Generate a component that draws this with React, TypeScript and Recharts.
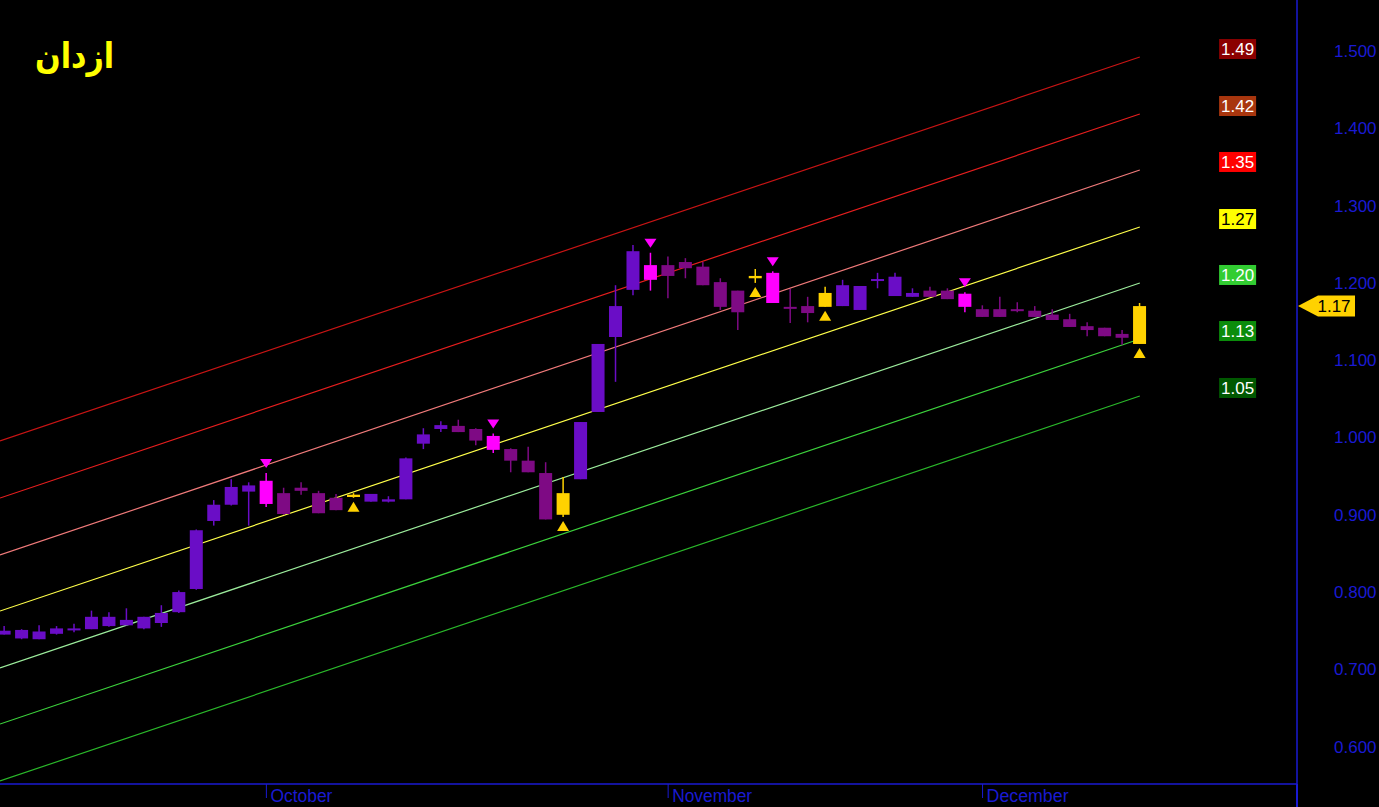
import React from 'react';
import { ComposedChart, Bar, XAxis, YAxis, ReferenceLine, ReferenceDot } from 'recharts';

// daily candles
const opens = [
  0.745, 0.740, 0.739, 0.746, 0.751, 0.752, 0.756, 0.757, 0.753, 0.760,
  0.774, 0.804, 0.892, 0.913, 0.930, 0.944, 0.928, 0.935, 0.928, 0.922,
  0.923, 0.917, 0.917, 0.920, 0.992, 1.011, 1.015, 1.011, 1.002, 0.985,
  0.970, 0.954, 0.900, 0.946, 1.033, 1.130, 1.191, 1.223, 1.223, 1.227,
  1.221, 1.201, 1.190, 1.206, 1.213, 1.169, 1.170, 1.169, 1.170, 1.165,
  1.204, 1.183, 1.182, 1.190, 1.190, 1.186, 1.166, 1.166, 1.166, 1.164,
  1.159, 1.153, 1.144, 1.142, 1.134, 1.121,
];
const highs = [
  0.756, 0.752, 0.757, 0.756, 0.759, 0.776, 0.774, 0.779, 0.768, 0.783,
  0.802, 0.881, 0.919, 0.946, 0.942, 0.954, 0.935, 0.942, 0.931, 0.927,
  0.928, 0.927, 0.924, 0.974, 1.012, 1.021, 1.023, 1.012, 1.005, 0.986,
  0.988, 0.968, 0.949, 1.020, 1.121, 1.197, 1.249, 1.239, 1.234, 1.232,
  1.227, 1.206, 1.190, 1.218, 1.215, 1.192, 1.182, 1.195, 1.204, 1.196,
  1.213, 1.213, 1.193, 1.195, 1.193, 1.188, 1.171, 1.182, 1.175, 1.170,
  1.166, 1.160, 1.149, 1.142, 1.139, 1.174,
];
const lows = [
  0.745, 0.739, 0.739, 0.745, 0.748, 0.752, 0.755, 0.757, 0.752, 0.755,
  0.773, 0.803, 0.886, 0.912, 0.886, 0.910, 0.900, 0.926, 0.902, 0.906,
  0.922, 0.917, 0.916, 0.920, 0.985, 1.007, 1.007, 0.990, 0.980, 0.955,
  0.955, 0.894, 0.897, 0.946, 1.033, 1.072, 1.184, 1.190, 1.180, 1.206,
  1.197, 1.165, 1.139, 1.200, 1.174, 1.148, 1.149, 1.169, 1.170, 1.165,
  1.193, 1.183, 1.182, 1.182, 1.179, 1.162, 1.156, 1.156, 1.162, 1.156,
  1.152, 1.143, 1.131, 1.131, 1.120, 1.121,
];
const closes = [
  0.750, 0.751, 0.749, 0.753, 0.753, 0.768, 0.768, 0.764, 0.768, 0.773,
  0.800, 0.880, 0.913, 0.936, 0.938, 0.914, 0.901, 0.931, 0.902, 0.906,
  0.926, 0.927, 0.920, 0.973, 1.004, 1.016, 1.007, 0.996, 0.984, 0.970,
  0.955, 0.894, 0.928, 1.020, 1.121, 1.170, 1.241, 1.204, 1.209, 1.219,
  1.197, 1.169, 1.162, 1.209, 1.174, 1.168, 1.161, 1.187, 1.197, 1.196,
  1.205, 1.208, 1.187, 1.182, 1.179, 1.169, 1.156, 1.156, 1.164, 1.156,
  1.152, 1.143, 1.139, 1.131, 1.129, 1.170,
];
// b = buy arrow below, s = sell arrow above
const signals = [
  '', '', '', '', '', '', '', '', '', '',
  '', '', '', '', '', 's', '', '', '', '',
  'b', '', '', '', '', '', '', '', 's', '',
  '', '', 'b', '', '', '', '', 's', '', '',
  '', '', '', 'b', 's', '', '', 'b', '', '',
  '', '', '', '', '', 's', '', '', '', '',
  '', '', '', '', '', 'b',
];

// regression channel: value at left edge and at last candle
const channelStart = [0.9955, 0.9217, 0.848, 0.7755, 0.7018, 0.6293, 0.5556];
const channelEnd = [1.4922, 1.4185, 1.3461, 1.2723, 1.1999, 1.1274, 1.0537];
const channelLabels = ['1.49', '1.42', '1.35', '1.27', '1.20', '1.13', '1.05'];
const channelColors = ['#c81414', '#e61e1e', '#f07a7a', '#ffff4a', '#9cec9c', '#3cd23c', '#2ab82a'];
const labelFills = ['#8b0000', '#a8360e', '#ff0000', '#ffff00', '#32cd32', '#0b8c0b', '#005800'];

const monthTicks = [15, 38, 56];
const monthLabels = ['October', 'November', 'December'];
const priceTicks = [0.6, 0.7, 0.8, 0.9, 1.0, 1.1, 1.2, 1.3, 1.4, 1.5];
const lastPrice = 1.17;

const X_MIN = -0.25;
const X_MAX = 74;
const LABEL_X = 70.6;
const BLUE = '#1a1ad2';

const VIOLET = '#6a0dc6';
const PURPLE = '#7e0a84';
const MAGENTA = '#ff00ff';
const GOLD = '#ffd200';

const data = opens.map((o, i) => ({
  i,
  range: [lows[i], highs[i]],
  open: o,
  high: highs[i],
  low: lows[i],
  close: closes[i],
  signal: signals[i],
}));

const Candle = (props: any) => {
  const { x, y, width, height, payload } = props;
  if (!payload) return null;
  const { open, close, high, low, signal } = payload;
  const top = Math.min(y, y + height);
  const h = Math.abs(height);
  const k = high - low > 0 ? h / (high - low) : 0;
  const py = (v: number) => top + (high - v) * k;
  const cx = x + width / 2;
  const bTop = py(Math.max(open, close));
  const bBot = py(Math.min(open, close));
  const bh = Math.max(bBot - bTop, 2);
  let color = close >= open ? VIOLET : PURPLE;
  if (signal === 's') color = MAGENTA;
  if (signal === 'b') color = GOLD;
  const yHigh = py(high);
  const yLow = py(low);
  return (
    <g>
      <line x1={cx} x2={cx} y1={yHigh} y2={yLow} stroke={color} strokeWidth={1.5} />
      <rect x={x} y={bTop} width={width} height={bh} fill={color} />
      {signal === 's' && (
        <polygon
          points={`${cx - 6},${yHigh - 14} ${cx + 6},${yHigh - 14} ${cx},${yHigh - 5}`}
          fill={MAGENTA}
        />
      )}
      {signal === 'b' && (
        <polygon
          points={`${cx},${yLow + 4} ${cx - 6},${yLow + 14} ${cx + 6},${yLow + 14}`}
          fill={GOLD}
        />
      )}
    </g>
  );
};

const MonthTick = (props: any) => {
  const { x, y, payload } = props;
  const idx = monthTicks.indexOf(payload.value);
  return (
    <g>
      <line x1={x} x2={x} y1={y} y2={y + 14} stroke={BLUE} strokeWidth={1} />
      <text x={x + 4} y={y + 18} fill={BLUE} fontSize={18} fontFamily="Liberation Sans, Arial, sans-serif"
        textLength={idx === 0 ? 62 : idx === 1 ? 80 : 82} lengthAdjust="spacingAndGlyphs">
        {monthLabels[idx]}
      </text>
    </g>
  );
};

const PriceTick = (props: any) => {
  const { x, y, payload } = props;
  return (
    <text x={x + 37} y={y + 6} fill={BLUE} fontSize={17} fontFamily="Liberation Sans, Arial, sans-serif">
      {Number(payload.value).toFixed(3)}
    </text>
  );
};

const ChannelTag = (k: number) => (props: any) => {
  const { cx, cy } = props;
  const dark = k === 3;
  return (
    <g>
      <rect x={cx - 18.5} y={cy - 18} width={37} height={20} fill={labelFills[k]} />
      <text x={cx} y={cy - 2} textAnchor="middle" fill={dark ? '#000' : '#fff'} fontSize={17}
        fontFamily="Liberation Sans, Arial, sans-serif">
        {channelLabels[k]}
      </text>
    </g>
  );
};

const LastTag = (props: any) => {
  const { cx, cy } = props;
  return (
    <g>
      <polygon
        points={`${cx + 1},${cy} ${cx + 21},${cy - 10.5} ${cx + 58},${cy - 10.5} ${cx + 58},${cy + 10.5} ${cx + 21},${cy + 10.5}`}
        fill={GOLD}
      />
      <text x={cx + 37} y={cy + 6} textAnchor="middle" fill="#000" fontSize={17}
        fontFamily="Liberation Sans, Arial, sans-serif">
        {lastPrice.toFixed(2)}
      </text>
    </g>
  );
};

export default function App() {
  const lastIdx = opens.length - 1;
  return (
    <div style={{ position: 'absolute', left: 0, top: 0, width: 1379, height: 807, background: '#000', overflow: 'hidden' }}>
      <ComposedChart width={1379} height={807} data={data} margin={{ top: 0, right: 0, bottom: 0, left: 0 }}>
        <XAxis
          dataKey="i"
          type="number"
          domain={[X_MIN, X_MAX]}
          allowDataOverflow
          ticks={monthTicks}
          height={23}
          tickSize={0}
          tickMargin={0}
          tickLine={false}
          axisLine={{ stroke: BLUE, strokeWidth: 1.5 }}
          tick={<MonthTick />}
        />
        <YAxis
          orientation="right"
          type="number"
          domain={[0.5517, 1.566]}
          allowDataOverflow
          ticks={priceTicks}
          width={82}
          tickSize={0}
          tickMargin={0}
          tickLine={false}
          axisLine={{ stroke: BLUE, strokeWidth: 1.5 }}
          tick={<PriceTick />}
        />
        {channelStart.map((s, k) => (
          <ReferenceLine
            key={'ch' + k}
            segment={[{ x: X_MIN, y: s }, { x: lastIdx, y: channelEnd[k] }]}
            stroke={channelColors[k]}
            strokeWidth={1.2}
            ifOverflow="visible"
            zIndex={50}
          />
        ))}
        <Bar dataKey="range" barSize={13} isAnimationActive={false} shape={<Candle />} />
        {channelEnd.map((v, k) => (
          <ReferenceDot key={'tag' + k} x={LABEL_X} y={v} r={1} ifOverflow="visible" shape={ChannelTag(k)} />
        ))}
        <ReferenceDot x={X_MAX} y={lastPrice} r={1} ifOverflow="visible" shape={LastTag} />
      </ComposedChart>
      <div
        style={{
          position: 'absolute',
          left: 35,
          top: 31,
          color: '#ffff00',
          fontFamily: 'DejaVu Sans, sans-serif',
          fontWeight: 'bold',
          fontSize: 35,
          lineHeight: '50px',
          transform: 'scaleX(0.86)',
          transformOrigin: 'left center',
        }}
      >
        ازدان
      </div>
      <div style={{ position: 'absolute', left: 1296, top: 784, width: 1.5, height: 23, background: BLUE }} />
    </div>
  );
}
